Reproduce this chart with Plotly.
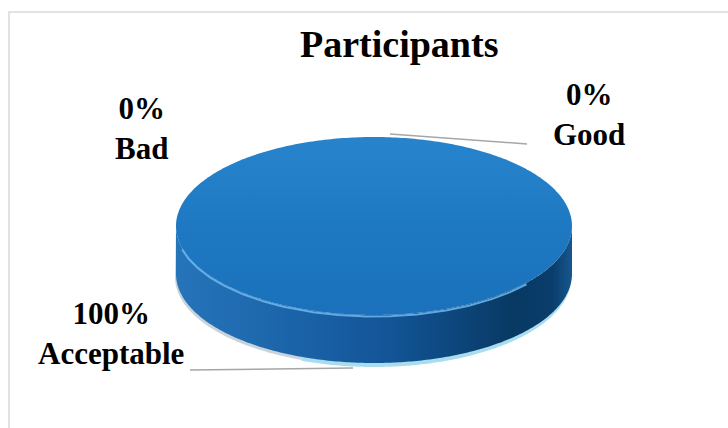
import numpy as np
import plotly.graph_objects as go

# ---- data ----
categories = ["Good", "Acceptable", "Bad"]
values = [0, 100, 0]
title_text = "Participants"

# ---- layout constants (pixel space) ----
W, H = 728, 428
CX, CY, RX, RY, DEPTH = 374, 226, 198, 89, 48
FONT = "Liberation Serif, Times New Roman, serif"

label_pos = {            # label centre (x, y) and leader line (x0, y0, x1, y1) or None
    "Good": ((589, 114), (390, 134, 527, 144)),
    "Acceptable": ((111, 333), (190, 370, 353, 368)),
    "Bad": ((141, 128), None),
}

def ell(theta, dy=0.0, rx=RX, ry=RY):
    return CX + rx * np.cos(theta), CY + dy + ry * np.sin(theta)

total = float(sum(values))
fig = go.Figure()

# slice angle ranges (start at 12 o'clock, clockwise)
start = -np.pi / 2
ranges = []
for c, v in zip(categories, values):
    sweep = 2 * np.pi * v / total
    ranges.append((c, v, start, start + sweep))
    start += sweep

# soft shadow + light rim under the disk
t = np.linspace(0.5 * np.pi, np.pi + 0.02, 150)
sx, sy = ell(t, DEPTH + 3, RX + 1, RY)
tx, ty = ell(t[::-1], 0)
fig.add_trace(go.Scatter(x=np.r_[sx, tx], y=np.r_[sy, ty], fill="toself", mode="none",
                         fillcolor="#C9D3DA", hoverinfo="skip"))
t = np.linspace(-0.05, 0.62 * np.pi, 200)
rx_, ry_ = ell(t, DEPTH + 4, RX - 1, RY)
tx, ty = ell(t[::-1], 0)
fig.add_trace(go.Scatter(x=np.r_[rx_, tx], y=np.r_[ry_, ty], fill="toself", mode="none",
                         fillcolor="#A9DDEE", hoverinfo="skip"))

# side walls (front half visible)
for c, v, a0, a1 in ranges:
    if v <= 0:
        continue
    for k in range(-1, 2):
        lo, hi = max(a0, 2 * np.pi * k), min(a1, 2 * np.pi * k + np.pi)
        if hi <= lo:
            continue
        t = np.linspace(lo, hi, 240)
        x1, y1 = ell(t, 0)
        x2, y2 = ell(t[::-1], DEPTH)
        fig.add_trace(go.Scatter(
            x=np.r_[x1, x2], y=np.r_[y1, y2], fill="toself", mode="none",
            fillgradient=dict(type="horizontal", colorscale=[
                [0.0, "#2674BA"], [0.25, "#1D66AC"], [0.55, "#125496"],
                [0.85, "#083963"], [0.95, "#0A3D6B"], [1.0, "#16578F"]]),
            hoverinfo="skip"))

# top faces
for c, v, a0, a1 in ranges:
    if v <= 0:
        continue
    t = np.linspace(a0, a1, 400)
    x, y = ell(t, 0)
    if v < total:
        x, y = np.r_[CX, x, CX], np.r_[CY, y, CY]
    fig.add_trace(go.Scatter(
        x=x, y=y, fill="toself", mode="none",
        fillgradient=dict(type="vertical", colorscale=[
            [0.0, "#1B71BB"], [0.5, "#1E79C2"], [1.0, "#2784CC"]]),
        hoverinfo="skip", name=c))

# highlight along the front edge of the top face
t = np.linspace(0.22 * np.pi, 0.92 * np.pi, 200)
hx, hy = ell(t, 1.5)
fig.add_trace(go.Scatter(x=hx, y=hy, mode="lines",
                         line=dict(color="rgba(110,185,238,0.85)", width=2),
                         hoverinfo="skip"))

# labels and leader lines
for c, v in zip(categories, values):
    (lx, ly), leader = label_pos[c]
    pct = round(100 * v / total)
    fig.add_annotation(x=lx, y=ly, xref="x", yref="y", text=f"<b>{pct}%<br>{c}</b>",
                       showarrow=False, xanchor="center", yanchor="middle",
                       font=dict(family=FONT, size=31, color="#000000"))
    if leader:
        x0, y0, x1, y1 = leader
        fig.add_shape(type="line", x0=x0, y0=y0, x1=x1, y1=y1, xref="x", yref="y",
                      line=dict(color="#A6A6A6", width=1.5))

# chart border
fig.add_shape(type="rect", x0=9, y0=12, x1=W + 20, y1=H + 20, xref="x", yref="y",
              line=dict(color="#D9D9D9", width=1.5), layer="below")

fig.add_annotation(x=399, y=44, xref="x", yref="y", text=f"<b>{title_text}</b>",
                   showarrow=False, xanchor="center", yanchor="middle",
                   font=dict(family=FONT, size=38, color="#000000"))

fig.update_layout(
    width=W, height=H, margin=dict(l=0, r=0, t=0, b=0),
    paper_bgcolor="white", plot_bgcolor="white", showlegend=False,
    xaxis=dict(range=[0, W], visible=False, fixedrange=True),
    yaxis=dict(range=[H, 0], visible=False, fixedrange=True),
)

fig.write_html("out.html")
